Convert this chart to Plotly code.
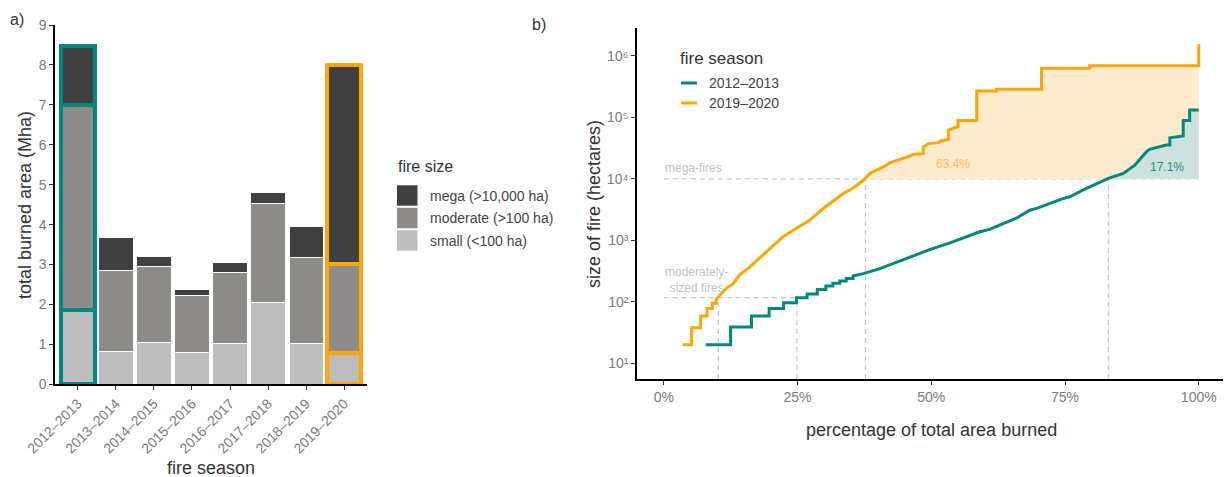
import math
import plotly.graph_objects as go

# ---------------- data ----------------
seasons = ["2012–2013", "2013–2014", "2014–2015", "2015–2016",
           "2016–2017", "2017–2018", "2018–2019", "2019–2020"]
small_mha = [1.87, 0.82, 1.04, 0.79, 1.03, 2.05, 1.01, 0.79]
moderate_mha = [5.13, 2.03, 1.92, 1.43, 1.78, 2.47, 2.16, 2.22]
mega_mha = [1.48, 0.82, 0.24, 0.16, 0.25, 0.28, 0.78, 4.99]
highlighted_seasons = ["2012–2013", "2019–2020"]

# cumulative share of burned area (%) vs fire size (ha): traced vertices, season 2012-2013
pct_2012 = [7.85, 12.5, 12.5, 16.4, 16.4, 19.7, 19.7, 22.4, 22.4, 24.8, 24.8, 26.8, 26.8,
            28.7, 28.7, 30.3, 30.3, 31.6, 31.6, 32.9, 32.9, 34.1, 34.1, 35.4, 35.4,
            37.3, 40.4, 44.0, 49.7, 53.5, 59.1, 60.9, 65.9, 68.4, 69.7, 74.6, 75.9,
            78.4, 83.1, 85.9, 88.0, 90.2, 90.8, 93.9, 94.6, 94.6, 96.8, 97.1, 97.1,
            98.3, 98.3, 100.0]
size_2012 = [20, 20, 39, 39, 59, 59, 78, 78, 97, 97, 117, 117, 134,
             134, 159, 159, 181, 181, 200, 200, 219, 219, 240, 240, 263,
             288, 347, 457, 708, 912, 1380, 1510, 2290, 3090, 3310, 4790, 5130,
             6610, 10200, 12300, 16600, 27500, 30200, 35500, 35500, 46800, 50100, 50100, 89100,
             89100, 132000, 132000]

# season 2019-2020
pct_2019 = [3.5, 5.2, 5.2, 6.9, 6.9, 8.1, 8.1, 9.1, 9.1, 9.8, 9.8, 10.5, 11.7, 13.0,
            14.2, 16.1, 17.9, 19.8, 22.3, 24.8, 27.3, 29.8, 32.3, 33.5, 35.4, 37.3,
            38.5, 41.6, 42.2, 46.0, 46.6, 48.5, 48.5, 49.4, 51.3, 51.9, 53.2, 53.2,
            54.0, 55.0, 55.0, 58.5, 58.5, 62.2, 62.2, 70.6, 70.6, 79.6, 79.6, 100.0, 100.0]
size_2019 = [20, 20, 38, 38, 59, 59, 78, 78, 95, 95, 110, 129, 166, 200,
             275, 370, 510, 740, 1150, 1580, 2140, 3300, 4800, 5750, 7100, 9500,
             12300, 16600, 18200, 23400, 25100, 25700, 33100, 37200, 38900, 41700, 43700, 61700,
             66100, 70800, 89100, 89100, 269000, 269000, 288000, 288000, 631000, 631000, 692000,
             692000, 1550000]

moderate_threshold = 117      # ha
mega_threshold = 10000        # ha
cross_2012 = [24.9, 83.1]     # % where thresholds are reached
cross_2019 = [10.2, 37.7]
share_2012 = "17.1%"
share_2019 = "63.4%"

season_names = ["2012–2013", "2019–2020"]
size_classes = ["mega (>10,000 ha)", "moderate (>100 ha)", "small (<100 ha)"]
y2_tickvals = [10, 100, 1000, 10000, 100000, 1000000]
y2_ticktext = ["10¹", "10²", "10³", "10⁴", "10⁵", "10⁶"]
x2_tickvals = [0, 25, 50, 75, 100]
x2_ticktext = ["0%", "25%", "50%", "75%", "100%"]

# ---------------- style ----------------
W, H = 1231, 477
OFF = 8  # page body margin in the browser
FONT = "Liberation Sans, Arial, sans-serif"
TEAL = "#00897B"
ORANGE = "#FFA600"
C_MEGA, C_MOD, C_SMALL = "#404040", "#8D8C88", "#BEBEBE"
TICK_C = "#7A7A7A"
TITLE_C = "#333333"
DASH_C = "#C6C6C6"
season_color = {"2012–2013": TEAL, "2019–2020": ORANGE}


def px(x):
    return (x - OFF) / W


def py(y):
    return 1 - (y - OFF) / H


line_cols = [season_color.get(s, "white") for s in seasons]
line_wids = [4 if s in highlighted_seasons else 1 for s in seasons]

fig = go.Figure()
for vals, col, name in [(small_mha, C_SMALL, size_classes[2]),
                        (moderate_mha, C_MOD, size_classes[1]),
                        (mega_mha, C_MEGA, size_classes[0])]:
    fig.add_trace(go.Bar(x=seasons, y=vals, name=name, marker_color=col,
                         marker_line_color=line_cols, marker_line_width=line_wids,
                         width=0.9, xaxis="x", yaxis="y", showlegend=False))

# ---- right panel ----
y_range = [0.745, 6.45]
y_bottom = 10 ** y_range[0]

dx, dy = [], []
dx += [0, 100, None, 0, cross_2012[0], None]
dy += [mega_threshold, mega_threshold, None, moderate_threshold, moderate_threshold, None]
for c, thr in [(cross_2019[0], moderate_threshold), (cross_2012[0], moderate_threshold),
               (cross_2019[1], mega_threshold), (cross_2012[1], mega_threshold)]:
    dx += [c, c, None]
    dy += [y_bottom, thr, None]
fig.add_trace(go.Scatter(x=dx, y=dy, mode="lines", xaxis="x2", yaxis="y2",
                         line=dict(color=DASH_C, width=1.2, dash="5px,4px"),
                         showlegend=False, hoverinfo="skip"))


def fill_poly(pcts, sizes, cross, thr):
    fx = [cross] + [p for p in pcts if p > cross] + [pcts[-1], cross]
    fy = [thr] + [s for p, s in zip(pcts, sizes) if p > cross] + [thr, thr]
    return fx, fy


fx, fy = fill_poly(pct_2019, size_2019, cross_2019[1], mega_threshold)
fig.add_trace(go.Scatter(x=fx, y=fy, mode="lines", fill="toself", fillcolor="#FEEACD",
                         line=dict(width=0), xaxis="x2", yaxis="y2",
                         showlegend=False, hoverinfo="skip"))
fx, fy = fill_poly(pct_2012, size_2012, cross_2012[1], mega_threshold)
fig.add_trace(go.Scatter(x=fx, y=fy, mode="lines", fill="toself", fillcolor="#CDE2DF",
                         line=dict(width=0), xaxis="x2", yaxis="y2",
                         showlegend=False, hoverinfo="skip"))

fig.add_trace(go.Scatter(x=pct_2012, y=size_2012, mode="lines", name=season_names[0],
                         line=dict(color=TEAL, width=3),
                         xaxis="x2", yaxis="y2", showlegend=False))
fig.add_trace(go.Scatter(x=pct_2019, y=size_2019, mode="lines", name=season_names[1],
                         line=dict(color=ORANGE, width=3),
                         xaxis="x2", yaxis="y2", showlegend=False))

axis_common = dict(showline=True, linecolor="black", linewidth=1.5, ticks="outside",
                   ticklen=4, tickcolor="#333333", tickwidth=1, showgrid=False,
                   zeroline=False, automargin=False,
                   tickfont=dict(family=FONT, size=14, color=TICK_C))

fig.update_layout(
    width=W, height=H, margin=dict(l=0, r=0, t=0, b=0, autoexpand=False),
    paper_bgcolor="white", plot_bgcolor="white",
    barmode="stack", bargap=0.1,
    font=dict(family=FONT, color=TITLE_C),
    xaxis=dict(domain=[px(55), px(367)], type="category", range=[-0.6, 7.6],
               tickangle=-45, anchor="y", **axis_common),
    yaxis=dict(domain=[py(384.3), py(25)], range=[0, 9], tickvals=list(range(10)),
               anchor="x", **axis_common),
    xaxis2=dict(domain=[px(637), px(1225.5)], range=[-5, 105],
                tickvals=x2_tickvals, ticktext=x2_ticktext,
                anchor="y2", **axis_common),
    yaxis2=dict(domain=[py(379), py(28.3)], type="log", range=y_range,
                tickvals=y2_tickvals, ticktext=y2_ticktext,
                anchor="x2", **axis_common),
)

ann = []


def text(x, y, t, size, color=TITLE_C, xanchor="left", angle=0, ref=("paper", "paper")):
    ann.append(dict(x=x, y=y, xref=ref[0], yref=ref[1], text=t, showarrow=False,
                    xanchor=xanchor, yanchor="middle", textangle=angle,
                    font=dict(family=FONT, size=size, color=color)))


# panel labels
text(px(8), py(20), "a)", 16)
text(px(530), py(25), "b)", 16)
# axis titles
text(px(25), py(205), "total burned area (Mha)", 18, xanchor="center", angle=-90)
text(px(211), py(468), "fire season", 18, xanchor="center")
text(px(594), py(204), "size of fire (hectares)", 18, xanchor="center", angle=-90)
text(px(931), py(430), "percentage of total area burned", 18, xanchor="center")

# left legend (fire size)
text(px(396), py(167), "fire size", 16)
shapes = []
for i, (lab, col) in enumerate(zip(size_classes, [C_MEGA, C_MOD, C_SMALL])):
    yc = 195.5 + 22.5 * i
    shapes.append(dict(type="rect", xref="paper", yref="paper", x0=px(397), x1=px(417.5),
                       y0=py(yc + 10.2), y1=py(yc - 10.2), fillcolor=col, line=dict(width=0)))
    text(px(428), py(yc), lab, 14, color="#444444")

# right legend (fire season)
text(px(678), py(58), "fire season", 17)
for i, (lab, col) in enumerate(zip(season_names, [TEAL, ORANGE])):
    yc = 83 + 20 * i
    shapes.append(dict(type="line", xref="paper", yref="paper", x0=px(681), x1=px(697),
                       y0=py(yc), y1=py(yc), line=dict(color=col, width=3)))
    text(px(707), py(yc), lab, 14, color="#444444")

# threshold annotations
text(px(663), py(168), "mega-fires", 12, color="#C2C2C2")
text(px(663), py(280), "moderately-<br>sized fires", 12, color="#C2C2C2")
# shares
text(54.0, math.log10(mega_threshold) + 0.25, share_2019, 12, color="#F8BC5E",
     xanchor="center", ref=("x2", "y2"))
text(94.0, math.log10(mega_threshold) + 0.2, share_2012, 12, color="#2A8C84",
     xanchor="center", ref=("x2", "y2"))

fig.update_layout(annotations=ann, shapes=shapes)
fig.write_html("out.html")
